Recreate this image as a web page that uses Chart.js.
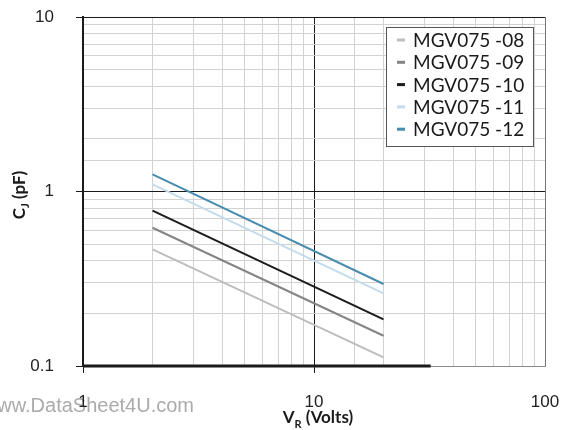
<!DOCTYPE html>
<html>
<head>
<meta charset="utf-8">
<script src="https://cdn.jsdelivr.net/npm/chart.js@4.4.1/dist/chart.umd.min.js"></script>
<style>
  html, body { margin: 0; padding: 0; background: #fff; }
  #chart { display: block; }
</style>
</head>
<body>
<canvas id="chart" width="563" height="430"></canvas>
<script>
// Reverse voltage (V) at the two ends of every curve
const voltage = [2, 20];

// Junction capacitance (pF) per part number
const cj08 = [0.466, 0.112];
const cj09 = [0.620, 0.149];
const cj10 = [0.776, 0.185];
const cj11 = [1.099, 0.261];
const cj12 = [1.255, 0.295];

// heavy black stub along the bottom axis in the original
const baseVolts = [1, 32];
const baseCj = [0.1, 0.1];

const partNames = ['MGV075 -08', 'MGV075 -09', 'MGV075 -10', 'MGV075 -11', 'MGV075 -12'];
const partColors = ['#bdbdbd', '#858585', '#1c1c1c', '#c3dbec', '#4a8cae'];

const xTickLabels = ['1', '10', '100'];
const yTickLabels = ['0.1', '1', '10'];

function toPoints(xs, ys) {
  return xs.map((x, i) => ({ x, y: ys[i] }));
}

function isDecade(v) {
  const l = Math.log10(v);
  return Math.abs(l - Math.round(l)) < 1e-9;
}

const curves = [cj08, cj09, cj10, cj11, cj12].map((vals, i) => ({
  label: partNames[i],
  data: toPoints(voltage, vals),
  borderColor: partColors[i],
  borderWidth: 2,
  pointRadius: 0,
  tension: 0,
}));

const baseline = {
  label: 'base',
  data: toPoints(baseVolts, baseCj),
  borderColor: '#1a1a1a',
  borderWidth: 3,
  pointRadius: 0,
  clip: false,
};

// Watermark, axis titles with subscripts, and the boxed legend
const decorPlugin = {
  id: 'decor',
  beforeDraw(chart) {
    const ctx = chart.ctx;
    ctx.save();
    ctx.font = '20px "Liberation Sans", Arial, sans-serif';
    ctx.fillStyle = '#ababab';
    ctx.textAlign = 'right';
    ctx.textBaseline = 'alphabetic';
    ctx.fillText('www.DataSheet4U.com', 194, 412);
    ctx.restore();
  },
  afterDraw(chart) {
    const ctx = chart.ctx;
    ctx.save();
    ctx.fillStyle = '#1a1a1a';
    ctx.textBaseline = 'alphabetic';

    // x title: V_R (Volts)
    const big = 'bold 17px Lato, "Open Sans", sans-serif';
    const small = 'bold 11px Lato, "Open Sans", sans-serif';
    ctx.font = big;
    const wV = ctx.measureText('V').width;
    const wRest = ctx.measureText(' (Volts)').width;
    ctx.font = small;
    const wR = ctx.measureText('R').width;
    let x = 318 - (wV + wR + wRest) / 2;
    ctx.font = big;
    ctx.fillText('V', x, 423);
    ctx.font = small;
    ctx.fillText('R', x + wV, 428);
    ctx.font = big;
    ctx.fillText(' (Volts)', x + wV + wR, 423);

    // y title: C_J (pF), rotated
    ctx.translate(25, 195);
    ctx.rotate(-Math.PI / 2);
    ctx.font = big;
    const wC = ctx.measureText('C').width;
    const wPf = ctx.measureText(' (pF)').width;
    ctx.font = small;
    const wJ = ctx.measureText('J').width;
    x = -(wC + wJ + wPf) / 2;
    ctx.font = big;
    ctx.fillText('C', x, 0);
    ctx.font = small;
    ctx.fillText('J', x + wC, 4);
    ctx.font = big;
    ctx.fillText(' (pF)', x + wC + wJ, 0);
    ctx.restore();

    // legend box
    ctx.save();
    ctx.fillStyle = '#fff';
    ctx.fillRect(386, 27, 147, 119);
    ctx.strokeStyle = '#555';
    ctx.lineWidth = 1;
    ctx.strokeRect(386.5, 27.5, 147, 119);
    ctx.font = '19px Lato, "Open Sans", sans-serif';
    ctx.textBaseline = 'middle';
    ctx.textAlign = 'left';
    partNames.forEach((name, i) => {
      const y = 40 + i * 22.3;
      ctx.strokeStyle = partColors[i];
      ctx.lineWidth = 3;
      ctx.beginPath();
      ctx.moveTo(397, y);
      ctx.lineTo(405, y);
      ctx.stroke();
      ctx.fillStyle = '#1a1a1a';
      ctx.fillText(name, 413, y + 1);
    });
    ctx.restore();
  },
};

function gridColor(v, first, last) {
  if (!isDecade(v)) return '#d2d2d2';
  if (Math.abs(v - first) < 1e-9) return '#888';
  return Math.abs(v - last) < 1e-9 ? '#777' : '#1a1a1a';
}

new Chart(document.getElementById('chart').getContext('2d'), {
  type: 'line',
  data: { datasets: [...curves, baseline] },
  options: {
    responsive: false,
    animation: false,
    devicePixelRatio: 1,
    layout: { padding: { top: 17, right: 18, left: 0, bottom: 0 } },
    plugins: { legend: { display: false }, tooltip: { enabled: false } },
    scales: {
      x: {
        type: 'logarithmic',
        min: 1,
        max: 100,
        afterFit: (s) => {
          s.height = 64;
          s.paddingLeft = 0;
          s.paddingRight = 0;
        },
        border: { display: true, color: '#888', width: 1 },
        grid: {
          color: (c) => {
            const v = c.tick.value;
            if (Math.abs(v - 100) < 1e-9) return '#777';
            return isDecade(v) ? '#1a1a1a' : '#d2d2d2';
          },
          lineWidth: 1,
          tickLength: 7,
          tickColor: (c) => (isDecade(c.tick.value) && c.tick.value < 50 ? '#1a1a1a' : 'rgba(0,0,0,0)'),
        },
        ticks: {
          autoSkip: false,
          maxRotation: 0,
          padding: 19,
          color: '#222',
          font: { family: '"Liberation Sans", Arial, sans-serif', size: 17 },
          callback: (v) => (isDecade(v) ? xTickLabels[Math.round(Math.log10(v))] : ''),
        },
      },
      y: {
        type: 'logarithmic',
        min: 0.1,
        max: 10,
        afterFit: (s) => {
          s.width = 83;
          s.paddingTop = 0;
          s.paddingBottom = 0;
        },
        border: { display: true, color: '#1a1a1a', width: 2 },
        grid: {
          color: (c) => gridColor(c.tick.value, 0.1, 100),
          lineWidth: 1,
          tickLength: 7,
          tickColor: (c) => (isDecade(c.tick.value) ? '#1a1a1a' : 'rgba(0,0,0,0)'),
        },
        ticks: {
          autoSkip: false,
          padding: 22,
          color: '#222',
          font: { family: '"Liberation Sans", Arial, sans-serif', size: 17 },
          callback: (v) => (isDecade(v) ? yTickLabels[Math.round(Math.log10(v)) + 1] : ''),
        },
      },
    },
  },
  plugins: [decorPlugin],
});
</script>
</body>
</html>
